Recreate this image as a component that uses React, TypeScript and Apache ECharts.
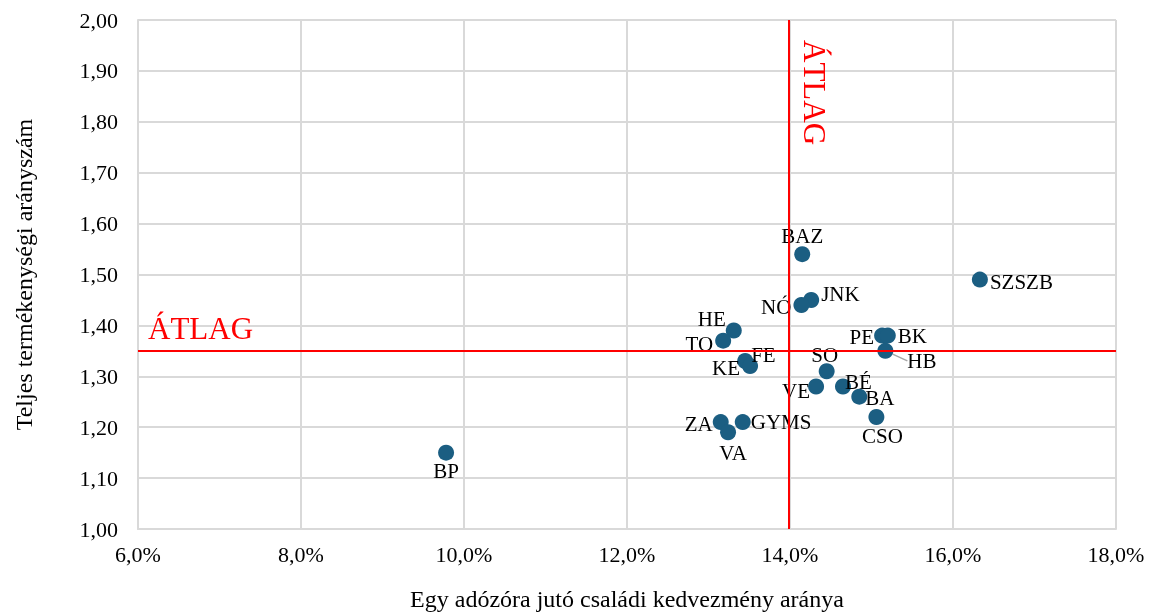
import React, { useEffect, useRef } from "react";
import * as echarts from "echarts";

const names = ["BP", "BAZ", "JNK", "NÓ", "HE", "TO", "FE", "KE", "SO", "VE", "BÉ", "BA", "CSO", "PE", "BK", "HB", "ZA", "VA", "GYMS", "SZSZB"];
const xValues = [9.78, 14.15, 14.26, 14.14, 13.31, 13.18, 13.45, 13.51, 14.45, 14.32, 14.65, 14.85, 15.06, 15.13, 15.2, 15.17, 13.15, 13.24, 13.42, 16.33];
const yValues = [1.15, 1.54, 1.45, 1.44, 1.39, 1.37, 1.33, 1.32, 1.31, 1.28, 1.28, 1.26, 1.22, 1.38, 1.38, 1.35, 1.21, 1.19, 1.21, 1.49];
const avgX = 13.98;
const avgY = 1.35;
const avgLabel = "ÁTLAG";
const xTitle = "Egy adózóra jutó családi kedvezmény aránya";
const yTitle = "Teljes termékenységi arányszám";

const labelPlacement: Record<string, any> = {
  BP: { position: "bottom", distance: 0 },
  BAZ: { position: "top", distance: 0 },
  JNK: { position: "right", distance: 2, offset: [0, -6] },
  "NÓ": { position: "left", distance: 2, offset: [0, 2] },
  HE: { position: "left", distance: 0, offset: [0, -11] },
  TO: { position: "left", distance: 2, offset: [0, 3] },
  FE: { position: "right", distance: 0, offset: [-2, -6] },
  KE: { position: "left", distance: 2, offset: [0, 2] },
  SO: { position: "top", distance: 0, offset: [-2, 2] },
  VE: { position: "left", distance: 0, offset: [2, 5] },
  "BÉ": { position: "right", distance: -12, offset: [6, -4] },
  BA: { position: "right", distance: 0, offset: [-2, 1] },
  CSO: { position: "bottom", distance: 0, offset: [6, 0] },
  PE: { position: "left", distance: 0, offset: [0, 1] },
  BK: { position: "right", distance: 2, offset: [0, 0] },
  HB: { position: "right", distance: 14, offset: [0, 10] },
  ZA: { position: "left", distance: 0, offset: [0, 2] },
  VA: { position: "bottom", distance: 2, offset: [5, 0] },
  GYMS: { position: "right", distance: 0, offset: [0, 0] },
  SZSZB: { position: "right", distance: 2, offset: [0, 2] },
};

const FONT = "'Liberation Serif', 'Times New Roman', serif";

export default function App() {
  const ref = useRef<HTMLDivElement>(null);
  useEffect(() => {
    if (!ref.current) return;
    const chart = echarts.init(ref.current, undefined, { renderer: "svg" });
    const data = names.map((n, i) => {
      const p = labelPlacement[n] || {};
      return {
        name: n,
        value: [xValues[i], yValues[i]],
        label: { position: p.position, distance: p.distance, offset: p.offset || [0, 0] },
        ...(n === "HB" ? { labelLine: { show: true, length2: 0, lineStyle: { color: "#a6a6a6", width: 1.5 } } } : {}),
      };
    });
    chart.setOption({
      animation: false,
      textStyle: { fontFamily: FONT },
      grid: { left: 138, right: 34, top: 20, bottom: 86 },
      xAxis: {
        type: "value",
        min: 6,
        max: 18,
        interval: 2,
        name: xTitle,
        nameLocation: "middle",
        nameGap: 58,
        nameTextStyle: { fontFamily: FONT, fontSize: 24, color: "#000" },
        axisLine: { show: true, lineStyle: { color: "#d9d9d9", width: 2 } },
        axisTick: { show: false },
        axisLabel: {
          fontFamily: FONT, fontSize: 22, color: "#000", margin: 14,
          formatter: (v: number) => v.toFixed(1).replace(".", ",") + "%",
        },
        splitLine: { show: true, lineStyle: { color: "#d9d9d9", width: 2 } },
      },
      yAxis: {
        type: "value",
        min: 1,
        max: 2,
        interval: 0.1,
        name: yTitle,
        nameLocation: "middle",
        nameGap: 102,
        nameRotate: 90,
        nameTextStyle: { fontFamily: FONT, fontSize: 24, color: "#000" },
        axisLine: { show: true, lineStyle: { color: "#d9d9d9", width: 2 } },
        axisTick: { show: false },
        axisLabel: {
          fontFamily: FONT, fontSize: 22, color: "#000", margin: 20,
          formatter: (v: number) => v.toFixed(2).replace(".", ","),
        },
        splitLine: { show: true, lineStyle: { color: "#d9d9d9", width: 2 } },
      },
      series: [
        {
          type: "scatter",
          symbolSize: 16,
          itemStyle: { color: "#1b5e82", opacity: 1 },
          label: {
            show: true,
            formatter: "{b}",
            fontFamily: FONT,
            fontSize: 21,
            color: "#000",
          },
          labelLine: { show: false },
          data,
          markLine: {
            silent: true,
            symbol: ["none", "none"],
            lineStyle: { color: "#ff0000", width: 2, type: "solid" },
            label: { show: false },
            data: [
              [{ coord: [avgX, 1] }, { coord: [avgX, 2] }],
              [{ coord: [6, avgY] }, { coord: [18, avgY] }],
            ],
          },
          z: 3,
        },
      ],
    });
    const hPos = chart.convertToPixel({ gridIndex: 0 }, [6, avgY]) as number[];
    const vPos = chart.convertToPixel({ gridIndex: 0 }, [avgX, 2]) as number[];
    chart.setOption({
      graphic: [
        {
          type: "text",
          x: hPos[0] + 10,
          y: hPos[1] - 7,
          style: { text: avgLabel, fill: "#ff0000", fontFamily: FONT, fontSize: 31, textVerticalAlign: "bottom", textAlign: "left" },
          z: 10,
        },
        {
          type: "text",
          x: vPos[0] + 11,
          y: vPos[1] + 20,
          rotation: -Math.PI / 2,
          style: { text: avgLabel, fill: "#ff0000", fontFamily: FONT, fontSize: 31, textVerticalAlign: "bottom", textAlign: "left" },
          z: 10,
        },
      ],
    });
    return () => chart.dispose();
  }, []);
  return <div ref={ref} style={{ width: 1150, height: 616, position: "fixed", left: 0, top: 0 }} />;
}
